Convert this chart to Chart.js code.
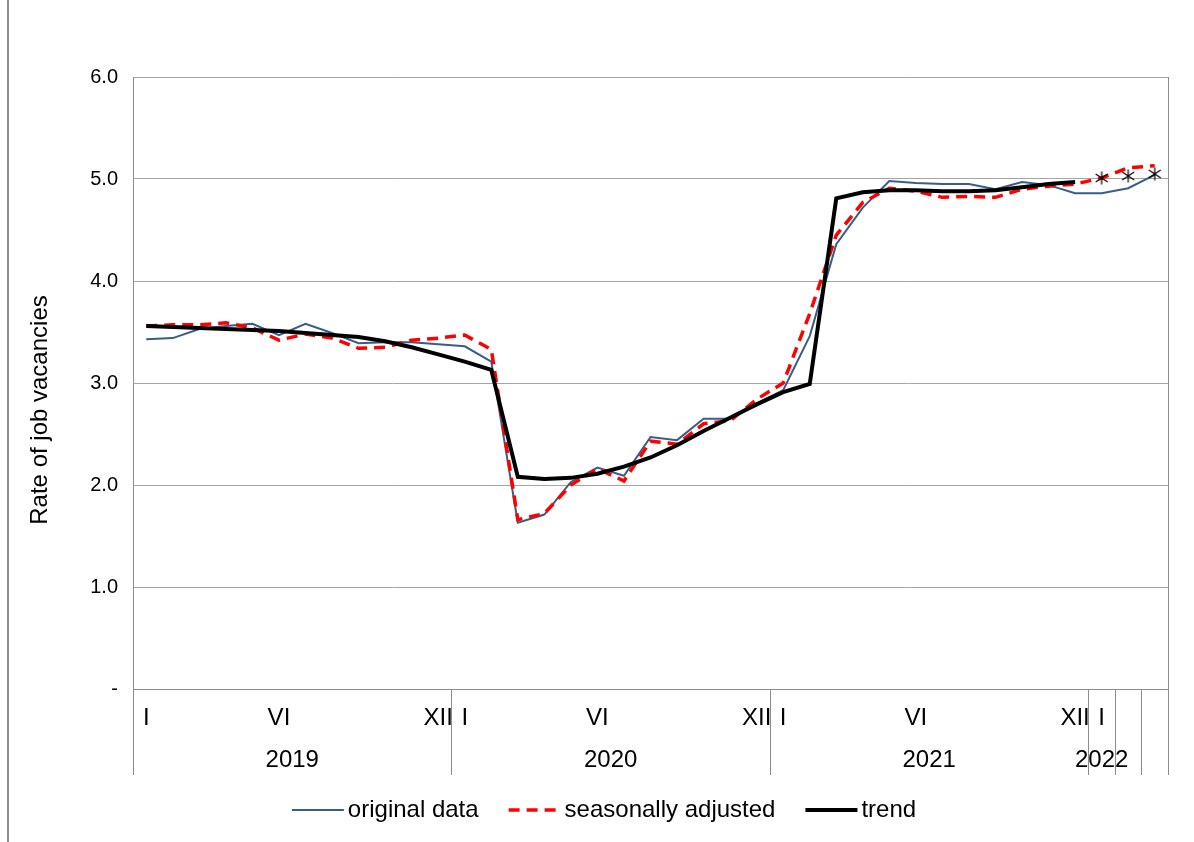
<!DOCTYPE html>
<html>
<head>
<meta charset="utf-8">
<script src="https://cdn.jsdelivr.net/npm/chart.js@4.4.1/dist/chart.umd.min.js"></script>
<style>
  html, body { margin: 0; padding: 0; background: #fff; }
  #wrap { position: relative; width: 1194px; height: 842px; }
  #frame { position: absolute; left: 7px; top: 0; width: 2px; height: 842px;
           background: #8c8c8c; pointer-events: none; }
</style>
</head>
<body>
<div id="wrap"><canvas id="chart"></canvas><div id="frame"></div></div>
<script>
/* ---------- data ---------- */
const years         = ['2019', '2020', '2021', '2022'];
const monthsPerYear = [12, 12, 12, 3];
const monthTicks    = ['I', '', '', '', '', 'VI', '', '', '', '', '', 'XII'];
const yTicks        = [0, 1, 2, 3, 4, 5, 6];

const original = [3.43, 3.44, 3.53, 3.56, 3.58, 3.47, 3.58, 3.49, 3.39, 3.40, 3.40, 3.38,
                  3.36, 3.21, 1.63, 1.71, 2.03, 2.17, 2.09, 2.47, 2.44, 2.65, 2.65, 2.80,
                  2.93, 3.46, 4.36, 4.72, 4.98, 4.96, 4.95, 4.95, 4.90, 4.97, 4.94, 4.86,
                  4.86, 4.91, 5.04];
const seasonal = [3.56, 3.57, 3.57, 3.59, 3.54, 3.42, 3.48, 3.44, 3.34, 3.35, 3.42, 3.44,
                  3.47, 3.33, 1.66, 1.72, 2.00, 2.16, 2.04, 2.43, 2.40, 2.60, 2.63, 2.84,
                  3.00, 3.68, 4.45, 4.77, 4.91, 4.88, 4.82, 4.83, 4.82, 4.90, 4.93, 4.95,
                  5.01, 5.11, 5.13];
const trend    = [3.56, 3.55, 3.54, 3.53, 3.52, 3.51, 3.49, 3.47, 3.45, 3.41, 3.35, 3.28,
                  3.21, 3.13, 2.08, 2.06, 2.07, 2.11, 2.18, 2.27, 2.39, 2.53, 2.66, 2.79,
                  2.91, 2.99, 4.81, 4.87, 4.89, 4.89, 4.88, 4.88, 4.89, 4.92, 4.95, 4.97];
const trendEstimate = [5.01, 5.03, 5.05];   // last months, shown as asterisks only

/* ---------- derived ---------- */
const labels = [];
years.forEach((y, i) => {
  for (let m = 0; m < monthsPerYear[i]; m++) labels.push((m + 1) + '/' + y);
});
const estimateData = Array(trend.length).fill(null).concat(trendEstimate);

const FONT = '"Liberation Sans", Arial, sans-serif';
const GRAY = '#8c8c8c';

// asterisk marker
const star = document.createElement('canvas');
star.width = 14; star.height = 14;
(() => {
  const c = star.getContext('2d');
  c.strokeStyle = '#000'; c.lineWidth = 1.2;
  c.beginPath();
  c.moveTo(7, 0.5); c.lineTo(7, 13.5);
  c.moveTo(1, 3); c.lineTo(13, 11);
  c.moveTo(1, 11); c.lineTo(13, 3);
  c.stroke();
})();

/* ---------- category labels, frame lines, legend ---------- */
const decorations = {
  id: 'decorations',
  afterDraw(chart) {
    const { ctx, chartArea: a, scales: { x } } = chart;
    const half = (x.getPixelForValue(1) - x.getPixelForValue(0)) / 2;
    const bottom = 775;
    const vline = (px, y0, y1) => {
      const p = Math.round(px) + 0.5;
      ctx.beginPath(); ctx.moveTo(p, y0); ctx.lineTo(p, y1); ctx.stroke();
    };

    ctx.save();
    ctx.strokeStyle = GRAY;
    ctx.lineWidth = 1;
    vline(a.left, a.top, bottom);
    vline(a.right, a.top, bottom);

    ctx.fillStyle = '#000';
    ctx.font = '24px ' + FONT;
    ctx.textAlign = 'center';
    ctx.textBaseline = 'middle';

    let idx = 0;
    years.forEach((y, i) => {
      const n = monthsPerYear[i];
      const start = x.getPixelForValue(idx) - half;
      const end = x.getPixelForValue(idx + n - 1) + half;
      if (idx > 0) vline(start, a.bottom, bottom);
      for (let m = 0; m < n; m++) {
        if (monthTicks[m]) ctx.fillText(monthTicks[m], x.getPixelForValue(idx + m), 718);
        if (n < 12 && m < n - 1) vline(x.getPixelForValue(idx + m) + half, a.bottom, bottom);
      }
      const cx = n < 12 ? x.getPixelForValue(idx) : (start + end) / 2;
      ctx.fillText(y, cx, 760);
      idx += n;
    });

    // y title
    ctx.save();
    ctx.translate(40, 410);
    ctx.rotate(-Math.PI / 2);
    ctx.fillText('Rate of job vacancies', 0, 0);
    ctx.restore();

    // legend, centred on the whole picture
    const items = chart.data.datasets.filter(d => !d.hideInLegend);
    const sample = 52, gap = 4, spacing = 30;
    ctx.textAlign = 'left';
    const widths = items.map(d => sample + gap + ctx.measureText(d.label).width);
    let lx = 604 - (widths.reduce((s, w) => s + w, 0) + spacing * (items.length - 1)) / 2;
    const ly = 810;
    items.forEach((d, i) => {
      ctx.save();
      ctx.strokeStyle = d.borderColor;
      ctx.lineWidth = d.borderWidth;
      ctx.setLineDash(d.borderDash || []);
      ctx.beginPath(); ctx.moveTo(lx, ly); ctx.lineTo(lx + sample, ly); ctx.stroke();
      ctx.restore();
      ctx.fillText(d.label, lx + sample + gap, ly);
      lx += widths[i] + spacing;
    });
    ctx.restore();
  }
};

/* ---------- chart ---------- */
new Chart(document.getElementById('chart'), {
  type: 'line',
  data: {
    labels,
    datasets: [
      { label: 'original data', data: original, borderColor: '#385D8A', borderWidth: 2,
        pointRadius: 0, order: 3 },
      { label: 'seasonally adjusted', data: seasonal, borderColor: '#FF0000', borderWidth: 3.5,
        borderDash: [11, 7], pointRadius: 0, order: 2 },
      { label: 'trend', data: trend, borderColor: '#000000', borderWidth: 4,
        pointRadius: 0, order: 1 },
      { label: 'trend (estimate)', data: estimateData, showLine: false, hideInLegend: true,
        pointStyle: star, pointRadius: 7, borderColor: '#000', order: 0 }
    ]
  },
  options: {
    responsive: true,
    maintainAspectRatio: false,
    animation: false,
    layout: { padding: { top: 77, right: 26, bottom: 0, left: 0 } },
    plugins: { legend: { display: false }, tooltip: { enabled: false } },
    scales: {
      x: {
        offset: true,
        grid: { display: false },
        ticks: { display: false },
        border: { display: true, color: GRAY },
        afterFit: s => { s.height = 153; }
      },
      y: {
        min: 0, max: 6,
        afterBuildTicks: s => { s.ticks = yTicks.map(v => ({ value: v })); },
        ticks: {
          padding: 15, color: '#000', font: { size: 20, family: FONT },
          callback: v => v === 0 ? '-' : v.toFixed(1)
        },
        grid: { color: '#a6a6a6', drawTicks: false },
        border: { display: true, color: GRAY },
        afterFit: s => { s.width = 133; }
      }
    }
  },
  plugins: [decorations]
});
</script>
</body>
</html>
